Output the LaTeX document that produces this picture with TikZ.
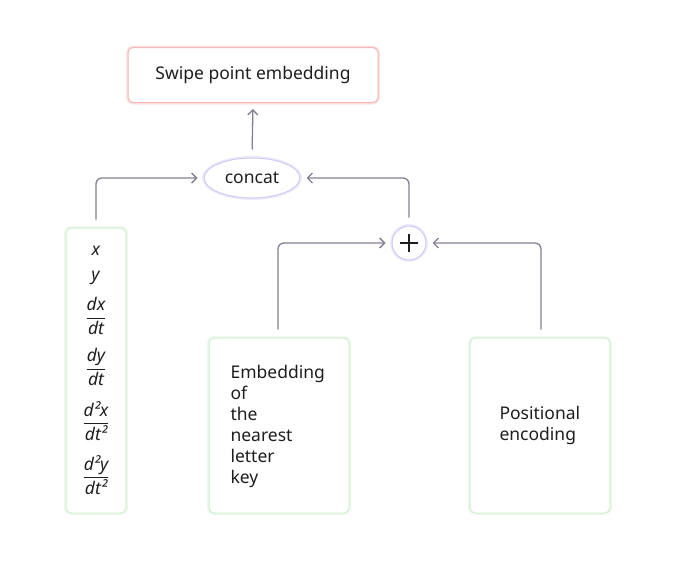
\documentclass[tikz,border=0pt]{standalone}
\usepackage{amsmath}
\usepackage{fontspec}
\setmainfont{Noto Sans}
\usepackage{tikz}
\usetikzlibrary{calc, arrows.meta, shapes.geometric, positioning}
\definecolor{arrowgray}{HTML}{857E92}
\definecolor{glowred}{HTML}{F6B3B3}
\definecolor{glowgreen}{HTML}{CDEFCD}
\definecolor{glowblue}{HTML}{CCC8F4}
\definecolor{textblack}{HTML}{1E1E1E}
\newcommand{\fr}[2]{$\displaystyle\frac{\textit{#1}}{\textit{#2}}$}
\tikzset{
  glowbox/.style={draw=#1, line width=1pt, rounded corners=5pt, fill=white,
    preaction={draw=#1, line width=4pt, opacity=0.35, rounded corners=5pt}},
  conn/.style={draw=arrowgray, line width=1.3pt, rounded corners=6pt,
    -{Straight Barb[length=5pt, width=10pt, line width=1.3pt]},
    shorten <=8pt, shorten >=6pt},
  lbl/.style={text=textblack, font=\fontsize{17.5}{21}\selectfont},
  feature/.style={lbl, inner sep=0pt}
}
\begin{document}
\begin{tikzpicture}[x=1pt, y=-1pt]
\useasboundingbox (0,0) rectangle (677,562);
% output
\node[glowbox=glowred, lbl, minimum width=250pt, minimum height=55pt] (swipe) at (253,75) {Swipe point embedding};
\node[glowbox=glowblue, lbl, ellipse, minimum width=96pt, minimum height=40pt, inner sep=0pt] (concat) at (252,178) {concat};
\node[glowbox=glowblue, circle, minimum size=34pt, inner sep=0pt] (plus) at (409,243) {};
\draw[textblack, line width=1.2pt] ($(plus)+(-9,0)$) -- ($(plus)+(9,0)$) ($(plus)+(0,-9)$) -- ($(plus)+(0,9)$);
% inputs
\node[glowbox=glowgreen, minimum width=60pt, minimum height=285pt] (feat) at (96,370.5) {};
\node[feature] (fx) at (96,251) {\textit{x}};
\node[feature] (fy) at (96,278) {\textit{y}};
\node[feature] (fdx) at (96,316) {\fr{dx}{dt}};
\node[feature] (fdy) at (96,367) {\fr{dy}{dt}};
\node[feature] (fddx) at (96,421) {\fr{d²x}{dt²}};
\node[feature] (fddy) at (96,475) {\fr{d²y}{dt²}};
\node[glowbox=glowgreen, minimum width=140pt, minimum height=175pt] (nearest) at (279,425.5) {};
\node[lbl, align=left, anchor=west] (nearesttxt) at (227,426) {Embedding\\of\\the\\nearest\\letter\\key};
\node[glowbox=glowgreen, minimum width=140pt, minimum height=175pt] (posenc) at (540,425.5) {};
\node[lbl, align=left, anchor=west] (posenctxt) at (496,425) {Positional\\encoding};
% connectors
\draw[conn] (concat.north) -- (swipe.south);
\draw[conn] (feat.north) |- (concat.west);
\draw[conn] (plus.north) |- (concat.east);
\draw[conn] ($(nearest.north)+(-1,0)$) |- (plus.west);
\draw[conn] ($(posenc.north)+(1,0)$) |- (plus.east);
\end{tikzpicture}
\end{document}
